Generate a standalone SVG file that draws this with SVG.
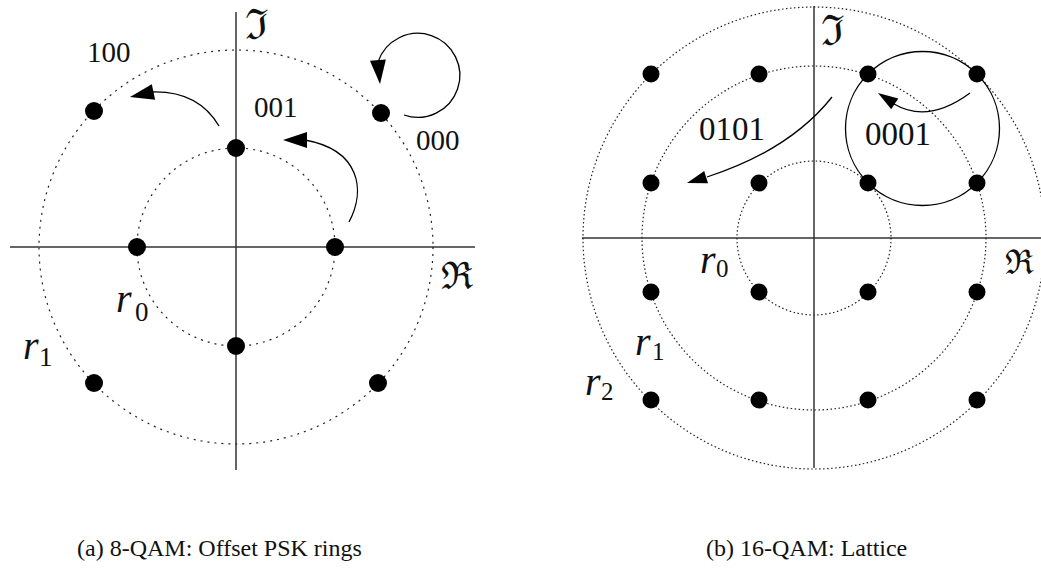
<svg xmlns="http://www.w3.org/2000/svg" xmlns:xlink="http://www.w3.org/1999/xlink" width="1041" height="569" viewBox="0 0 1041 569">
<style>
.axis{stroke:#333;stroke-width:1.5;fill:none}
.ringA{stroke:#222;stroke-width:1.2;fill:none;stroke-dasharray:2 5}
.ringB{stroke:#222;stroke-width:1.2;fill:none;stroke-dasharray:1.5 2.5}
.dot{fill:#000}
.conn{stroke:#000;stroke-width:1.3;fill:none}
.head{fill:#000}
text{fill:#111}
.mi{font-style:italic}
</style>
<defs>
<path id="ahA" d="M0,0 L-24,-8 L-24,8 Z"/>
<path id="ahB" d="M0,0 L-20,-6.5 L-20,6.5 Z"/>
</defs>
<rect width="1041" height="569" fill="#fff"/>

<!-- (a) 8-QAM -->
<g id="axes-a">
<line class="axis" x1="236" y1="12" x2="236" y2="470"/>
<line class="axis" x1="10" y1="247" x2="475" y2="247"/>
<circle class="ringA" cx="236" cy="247" r="99"/>
<circle class="ringA" cx="236" cy="247" r="197"/>
</g>
<g id="a-in-top"><circle class="dot" cx="236" cy="148" r="9"/></g>
<g id="a-in-left"><circle class="dot" cx="137" cy="247" r="9"/></g>
<g id="a-in-right"><circle class="dot" cx="335" cy="247" r="9"/></g>
<g id="a-in-bottom"><circle class="dot" cx="236" cy="346" r="9"/></g>
<g id="a-out-ul"><circle class="dot" cx="94" cy="111" r="9"/></g>
<g id="a-out-ur"><circle class="dot" cx="381" cy="113" r="9"/></g>
<g id="a-out-ll"><circle class="dot" cx="94" cy="383" r="9"/></g>
<g id="a-out-lr"><circle class="dot" cx="378" cy="383" r="9"/></g>

<g id="connectors-a">
<path class="conn" d="M219,126 Q198,91 153,92"/>
<use href="#ahA" xlink:href="#ahA" class="head" transform="translate(130,97) rotate(168)"/>
<path class="conn" d="M349,222 C366,190 360,150 305,140"/>
<use href="#ahA" xlink:href="#ahA" class="head" transform="translate(283,140) rotate(180)"/>
<path class="conn" d="M404,115 A42,42 0 1 0 378,62"/>
<use href="#ahA" xlink:href="#ahA" class="head" transform="translate(380,84) rotate(85)"/>
</g>

<g id="labels-a" font-family="'Liberation Serif', 'DejaVu Serif', serif">
<text x="245" y="39" font-size="42" font-family="'DejaVu Serif', serif">ℑ</text>
<text x="441" y="289" font-size="38" font-family="'DejaVu Serif', serif">ℜ</text>
<text x="87" y="62" font-size="29">100</text>
<text x="254" y="117" font-size="29">001</text>
<text x="416" y="150" font-size="29">000</text>
<text class="mi" x="116" y="312" font-size="40">r</text>
<text x="135" y="321" font-size="27">0</text>
<text class="mi" x="23" y="359" font-size="40">r</text>
<text x="39" y="366" font-size="27">1</text>
</g>

<!-- (b) 16-QAM -->
<g id="axes-b">
<line class="axis" x1="814" y1="6" x2="814" y2="468"/>
<line class="axis" x1="582" y1="238" x2="1041" y2="238"/>
<circle class="ringB" cx="814" cy="238" r="77"/>
<circle class="ringB" cx="814" cy="238" r="172"/>
<circle class="ringB" cx="814" cy="238" r="231"/>
</g>
<g id="b-r0-c0"><circle class="dot" cx="651" cy="74" r="8.5"/></g>
<g id="b-r0-c1"><circle class="dot" cx="759" cy="74" r="8.5"/></g>
<g id="b-r0-c2"><circle class="dot" cx="868" cy="74" r="8.5"/></g>
<g id="b-r0-c3"><circle class="dot" cx="977" cy="74" r="8.5"/></g>
<g id="b-r1-c0"><circle class="dot" cx="651" cy="183" r="8.5"/></g>
<g id="b-r1-c1"><circle class="dot" cx="759" cy="183" r="8.5"/></g>
<g id="b-r1-c2"><circle class="dot" cx="868" cy="183" r="8.5"/></g>
<g id="b-r1-c3"><circle class="dot" cx="977" cy="183" r="8.5"/></g>
<g id="b-r2-c0"><circle class="dot" cx="651" cy="292" r="8.5"/></g>
<g id="b-r2-c1"><circle class="dot" cx="759" cy="292" r="8.5"/></g>
<g id="b-r2-c2"><circle class="dot" cx="868" cy="292" r="8.5"/></g>
<g id="b-r2-c3"><circle class="dot" cx="977" cy="292" r="8.5"/></g>
<g id="b-r3-c0"><circle class="dot" cx="651" cy="400" r="8.5"/></g>
<g id="b-r3-c1"><circle class="dot" cx="759" cy="400" r="8.5"/></g>
<g id="b-r3-c2"><circle class="dot" cx="868" cy="400" r="8.5"/></g>
<g id="b-r3-c3"><circle class="dot" cx="977" cy="400" r="8.5"/></g>

<g id="connectors-b">
<circle class="conn" cx="922.5" cy="128.5" r="77"/>
<path class="conn" d="M970,93 Q928,124 894,104"/>
<use href="#ahB" xlink:href="#ahB" class="head" transform="translate(878,93) rotate(213)"/>
<path class="conn" d="M832,97 Q790,150 707,177"/>
<use href="#ahB" xlink:href="#ahB" class="head" transform="translate(687,183) rotate(163)"/>
</g>

<g id="labels-b" font-family="'Liberation Serif', 'DejaVu Serif', serif">
<text x="821" y="45" font-size="42" font-family="'DejaVu Serif', serif">ℑ</text>
<text x="1005" y="274" font-size="34" font-family="'DejaVu Serif', serif">ℜ</text>
<text x="699" y="140" font-size="33">0101</text>
<text x="865" y="145" font-size="33">0001</text>
<text class="mi" x="700" y="273" font-size="40">r</text>
<text x="716" y="277" font-size="25">0</text>
<text class="mi" x="635" y="355" font-size="40">r</text>
<text x="652" y="360" font-size="25">1</text>
<text class="mi" x="585" y="395" font-size="40">r</text>
<text x="601" y="400" font-size="25">2</text>
</g>

<g id="captions" font-family="'Liberation Serif', 'DejaVu Serif', serif" font-size="24">
<text x="77" y="556">(a) 8-QAM: Offset PSK rings</text>
<text x="706" y="556">(b) 16-QAM: Lattice</text>
</g>
</svg>
